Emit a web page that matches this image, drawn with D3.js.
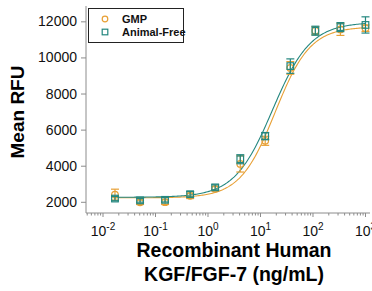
<!DOCTYPE html>
<html>
<head>
<meta charset="utf-8">
<script src="https://cdn.jsdelivr.net/npm/d3@7"></script>
<style>
  body { margin: 0; background: #fff; }
  svg { display: block; font-family: "Liberation Sans", Arial, sans-serif; }
</style>
</head>
<body>
<script>
// concentrations (ng/mL), 3-fold dilution
var conc = [0.0169, 0.0508, 0.152, 0.457, 1.37, 4.12, 12.3, 37.0, 111, 333, 1000];
var gmp = [2400, 1970, 1980, 2330, 2720, 4100, 5380, 9420, 11480, 11550, 11620];
var gmpErr = [300, 120, 130, 150, 120, 450, 250, 350, 220, 330, 180];
var animalFree = [2180, 2080, 2110, 2420, 2800, 4360, 5640, 9520, 11480, 11680, 11800];
var animalFreeErr = [120, 100, 120, 150, 140, 250, 200, 400, 250, 250, 450];

// 4PL fit parameters, [GMP, Animal-Free]
var fitBottom = [2220, 2250];
var fitTop = [11700, 11950];
var fitEC50 = [19, 17];
var fitHill = [1.3, 1.2];

var seriesNames = ["GMP", "Animal-Free"];
var colors = ["#E8A035", "#24877F"];
var yTicks = [2000, 4000, 6000, 8000, 10000, 12000];
var xTickExp = [-2, -1, 0, 1, 2, 3];

var W = 372, H = 291;
var svg = d3.select("body").append("svg").attr("width", W).attr("height", H);

var x = d3.scaleLog().domain([Math.pow(10, -2.324), Math.pow(10, 3.086)]).range([86, 370]);
var y = d3.scaleLinear().domain([1380, 12850]).range([213, 6]);

var axisColor = "#8c8c8c";

// y axis
var yAxis = svg.append("g").attr("transform", "translate(86,0)")
  .call(d3.axisLeft(y).tickValues(yTicks).tickSize(5).tickPadding(4).tickFormat(d3.format("d")));
yAxis.select(".domain").attr("stroke", axisColor).attr("d", "M0,6V213");
yAxis.selectAll(".tick line").attr("stroke", axisColor);
yAxis.selectAll(".tick text").attr("font-size", "14px").attr("fill", "#111")
  .attr("font-family", "Liberation Sans, Arial, sans-serif");

// x axis
var minor = [];
for (var e = -3; e <= 3; e++) {
  for (var m = 2; m <= 9; m++) {
    var v = m * Math.pow(10, e);
    if (v >= x.domain()[0] && v <= x.domain()[1]) minor.push(v);
  }
}
var xAxis = svg.append("g").attr("transform", "translate(0,213)");
xAxis.append("line").attr("x1", 86).attr("x2", 370).attr("y1", 0).attr("y2", 0).attr("stroke", axisColor);
xAxis.selectAll(".minor").data(minor).join("line")
  .attr("x1", function(d) { return x(d); }).attr("x2", function(d) { return x(d); })
  .attr("y1", 0).attr("y2", 2.5).attr("stroke", axisColor);
xAxis.selectAll(".major").data(xTickExp).join("line")
  .attr("x1", function(d) { return x(Math.pow(10, d)); }).attr("x2", function(d) { return x(Math.pow(10, d)); })
  .attr("y1", 0).attr("y2", 4).attr("stroke", axisColor);
var xl = xAxis.selectAll(".lab").data(xTickExp).join("text")
  .attr("x", function(d) { return x(Math.pow(10, d)); })
  .attr("y", 23).attr("text-anchor", "middle").attr("font-size", "14px").attr("fill", "#111");
xl.append("tspan").text("10");
xl.append("tspan").attr("dy", -6).attr("font-size", "10px").text(function(d) { return d < 0 ? "-" + (-d) : d; });

// axis titles
svg.append("text").attr("transform", "translate(24,112) rotate(-90)")
  .attr("text-anchor", "middle").attr("font-size", "19px").attr("font-weight", "bold").text("Mean RFU");
svg.append("text").attr("x", 234).attr("y", 257).attr("text-anchor", "middle")
  .attr("font-size", "19.5px").attr("font-weight", "bold").text("Recombinant Human");
svg.append("text").attr("x", 234).attr("y", 281).attr("text-anchor", "middle")
  .attr("font-size", "19.5px").attr("font-weight", "bold").text("KGF/FGF-7 (ng/mL)");

// fit curves
function fourPL(i, c) {
  return fitBottom[i] + (fitTop[i] - fitBottom[i]) / (1 + Math.pow(fitEC50[i] / c, fitHill[i]));
}
var line = d3.line().x(function(d) { return x(d[0]); }).y(function(d) { return y(d[1]); });
[0, 1].forEach(function(i) {
  var pts = d3.range(0, 201).map(function(k) {
    var c = Math.pow(10, Math.log10(conc[0]) + k / 200 * (Math.log10(1000) - Math.log10(conc[0])));
    return [c, fourPL(i, c)];
  });
  svg.append("path").attr("d", line(pts)).attr("fill", "none").attr("stroke", colors[i]).attr("stroke-width", 1.1);
});

// points + error bars
var series = [
  { vals: gmp, err: gmpErr, shape: "circle" },
  { vals: animalFree, err: animalFreeErr, shape: "square" }
];
series.forEach(function(s, i) {
  var g = svg.append("g").attr("stroke", colors[i]).attr("fill", "none").attr("stroke-width", 1.2);
  conc.forEach(function(c, j) {
    var cx = x(c), v = s.vals[j], e = s.err[j];
    g.append("line").attr("x1", cx).attr("x2", cx).attr("y1", y(v - e)).attr("y2", y(v + e));
    g.append("line").attr("x1", cx - 4).attr("x2", cx + 4).attr("y1", y(v + e)).attr("y2", y(v + e));
    g.append("line").attr("x1", cx - 4).attr("x2", cx + 4).attr("y1", y(v - e)).attr("y2", y(v - e));
    if (s.shape === "circle") {
      g.append("circle").attr("cx", cx).attr("cy", y(v)).attr("r", 3.3);
    } else {
      g.append("rect").attr("x", cx - 3.3).attr("y", y(v) - 3.3).attr("width", 6.6).attr("height", 6.6);
    }
  });
});

// legend
var lg = svg.append("g");
lg.append("rect").attr("x", 88.5).attr("y", 8.5).attr("width", 95).attr("height", 34)
  .attr("fill", "#fff").attr("stroke", "#222").attr("stroke-width", 1);
lg.append("circle").attr("cx", 105).attr("cy", 19).attr("r", 2.8)
  .attr("fill", "none").attr("stroke", colors[0]).attr("stroke-width", 1.2);
lg.append("rect").attr("x", 102.2).attr("y", 29.2).attr("width", 5.6).attr("height", 5.6)
  .attr("fill", "none").attr("stroke", colors[1]).attr("stroke-width", 1.2);
seriesNames.forEach(function(n, i) {
  lg.append("text").attr("x", 122).attr("y", 23 + i * 13).attr("font-size", "11px")
    .attr("font-weight", "bold").attr("fill", "#111").text(n);
});
</script>
</body>
</html>
